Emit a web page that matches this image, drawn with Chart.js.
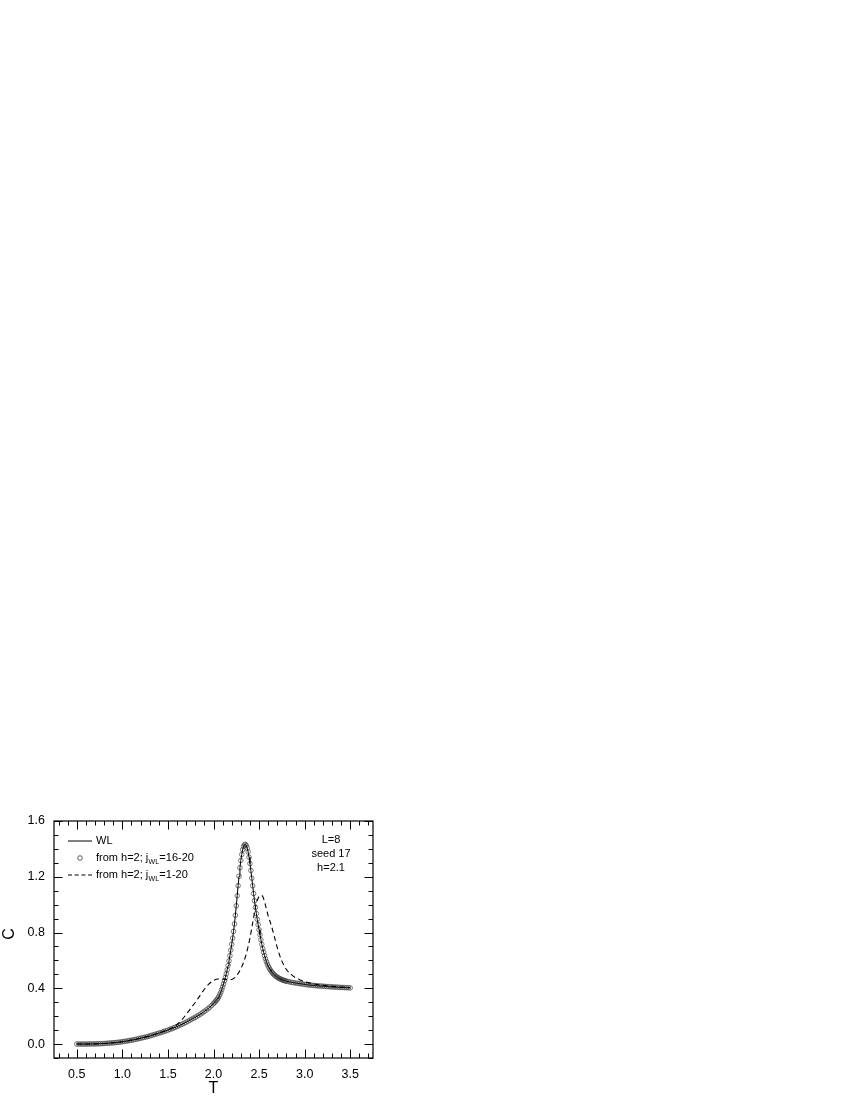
<!DOCTYPE html>
<html><head><meta charset="utf-8">
<script src="https://cdn.jsdelivr.net/npm/chart.js@4.4.0/dist/chart.umd.min.js"></script>
<style>
html,body{margin:0;padding:0;background:#fff;width:850px;height:1100px;overflow:hidden;}
#wrap{position:absolute;left:0;top:760px;width:400px;height:340px;}
</style></head><body>
<div id="wrap"><canvas id="c" width="400" height="340"></canvas></div>
<script>
// ---- data ----
const wlT = [0.50,0.52,0.54,0.56,0.58,0.60,0.62,0.64,0.66,0.68,0.70,0.72,0.74,0.76,0.78,0.80,0.82,0.84,0.86,0.88,0.90,0.92,0.94,0.96,0.98,
1.00,1.02,1.04,1.06,1.08,1.10,1.12,1.14,1.16,1.18,1.20,1.22,1.24,1.26,1.28,1.30,1.32,1.34,1.36,1.38,1.40,1.42,1.44,1.46,1.48,
1.50,1.52,1.54,1.56,1.58,1.60,1.62,1.64,1.66,1.68,1.70,1.72,1.74,1.76,1.78,1.80,1.82,1.84,1.86,1.88,1.90,1.92,1.94,1.96,1.98,
2.00,2.01,2.02,2.03,2.04,2.05,2.06,2.07,2.08,2.09,2.10,2.11,2.12,2.13,2.14,2.15,2.16,2.17,2.18,2.19,
2.20,2.21,2.22,2.23,2.24,2.25,2.26,2.27,2.28,2.29,2.30,2.31,2.32,2.33,2.34,2.35,2.36,2.37,2.38,2.39,
2.40,2.41,2.42,2.43,2.44,2.45,2.46,2.47,2.48,2.49,2.50,2.51,2.52,2.53,2.54,2.55,2.56,2.57,2.58,2.59,
2.60,2.61,2.62,2.63,2.64,2.65,2.66,2.67,2.68,2.69,2.70,2.71,2.72,2.73,2.74,2.75,2.76,2.77,2.78,2.79,2.80,
2.82,2.84,2.86,2.88,2.90,2.92,2.94,2.96,2.98,3.00,3.02,3.04,3.06,3.08,3.10,3.12,3.14,3.16,3.18,3.20,
3.22,3.24,3.26,3.28,3.30,3.32,3.34,3.36,3.38,3.40,3.42,3.44,3.46,3.48,3.50];
const wlC = [0.000,0.000,0.000,0.000,0.000,0.000,0.000,0.001,0.001,0.001,0.001,0.002,0.002,0.003,0.003,0.004,0.005,0.006,0.007,0.008,0.009,0.010,0.012,0.013,0.015,
0.017,0.019,0.021,0.023,0.025,0.028,0.030,0.033,0.036,0.039,0.042,0.045,0.048,0.051,0.055,0.058,0.062,0.066,0.070,0.074,0.078,0.082,0.086,0.091,0.095,
0.100,0.105,0.110,0.115,0.120,0.126,0.132,0.138,0.144,0.150,0.157,0.164,0.171,0.178,0.185,0.192,0.200,0.208,0.216,0.225,0.234,0.244,0.254,0.265,0.277,
0.290,0.297,0.305,0.313,0.321,0.330,0.342,0.356,0.372,0.390,0.410,0.431,0.454,0.478,0.504,0.532,0.563,0.597,0.634,0.674,
0.716,0.760,0.808,0.862,0.924,0.992,1.064,1.136,1.204,1.265,1.317,1.360,1.394,1.417,1.430,1.432,1.424,1.406,1.378,1.340,
1.295,1.245,1.190,1.135,1.080,1.028,0.980,0.936,0.895,0.857,0.820,0.784,0.748,0.715,0.685,0.658,0.634,0.612,0.592,0.575,
0.560,0.547,0.535,0.525,0.516,0.508,0.501,0.495,0.489,0.484,0.479,0.475,0.471,0.468,0.465,0.462,0.459,0.457,0.455,0.453,0.451,
0.448,0.445,0.442,0.440,0.438,0.436,0.434,0.432,0.430,0.428,0.426,0.424,0.423,0.422,0.420,0.419,0.418,0.417,0.416,0.415,
0.414,0.413,0.412,0.411,0.410,0.409,0.409,0.408,0.407,0.406,0.406,0.405,0.404,0.404,0.403];
// reweighted from h=2, j_WL=16-20 (coincides with WL)
const rwT = wlT;
const rwC = wlC;
// reweighted from h=2, j_WL=1-20 (dashed)
const dT = [0.50,0.60,0.70,0.80,0.90,1.00,1.10,1.20,1.30,1.40,1.50,1.55,1.60,1.65,1.70,1.75,1.80,1.85,1.90,1.95,2.00,2.05,2.10,2.15,2.20,2.25,2.30,2.35,2.40,2.43,2.46,2.48,2.50,2.52,2.54,2.56,2.58,2.60,2.63,2.66,2.70,2.75,2.80,2.85,2.90,2.95,3.00,3.10,3.20,3.30,3.40,3.50];
const dC = [0.000,0.000,0.001,0.004,0.009,0.017,0.028,0.042,0.058,0.079,0.102,0.118,0.140,0.172,0.212,0.256,0.298,0.346,0.393,0.431,0.456,0.467,0.467,0.461,0.463,0.488,0.540,0.625,0.760,0.870,0.980,1.030,1.058,1.068,1.058,1.020,0.970,0.920,0.860,0.790,0.690,0.595,0.535,0.500,0.476,0.460,0.448,0.432,0.422,0.415,0.409,0.405];
const xTickLabels = [0.5,1.0,1.5,2.0,2.5,3.0,3.5];
const yTickLabels = [0.0,0.4,0.8,1.2,1.6];
const legendLabels = ['WL','from h=2; j','from h=2; j'];
const legendSubs = ['', 'WL', 'WL'];
const legendTails = ['', '=16-20', '=1-20'];
const noteLines = ['L=8','seed 17','h=2.1'];
const xTitle = 'T';
const yTitle = 'C';

const FONT = "'Liberation Sans', Arial, Helvetica, sans-serif";

const decor = {
  id: 'decor',
  afterDraw(chart) {
    const ctx = chart.ctx, a = chart.chartArea, xs = chart.scales.x, ys = chart.scales.y;
    ctx.save();
    ctx.strokeStyle = '#000';
    ctx.lineWidth = 1;
    // ticks (inward, all four sides)
    const MAJ = 8.5, MIN = 4.5;
    ctx.beginPath();
    for (let i = 3; i <= 37; i++) {
      const v = i / 10, px = Math.round(xs.getPixelForValue(v)) + 0.5;
      const len = (i % 5 === 0) ? MAJ : MIN;
      ctx.moveTo(px, a.bottom); ctx.lineTo(px, a.bottom - len);
      ctx.moveTo(px, a.top); ctx.lineTo(px, a.top + len);
    }
    for (let i = -1; i <= 16; i++) {
      const v = i / 10, py = Math.round(ys.getPixelForValue(v)) + 0.5;
      const len = ((i + 100) % 4 === 0) ? MAJ : MIN;
      ctx.moveTo(a.left, py); ctx.lineTo(a.left + len, py);
      ctx.moveTo(a.right, py); ctx.lineTo(a.right - len, py);
    }
    ctx.stroke();
    // frame
    ctx.lineWidth = 1.2;
    ctx.strokeRect(a.left, a.top, a.right - a.left, a.bottom - a.top);

    // legend
    const oy = 760; // canvas top in page
    const rows = [841 - oy, 858 - oy, 875 - oy];
    const lx0 = 68, lx1 = 92, tx = 96;
    ctx.lineWidth = 1;
    ctx.strokeStyle = '#000';
    ctx.beginPath(); ctx.moveTo(lx0, rows[0]); ctx.lineTo(lx1, rows[0]); ctx.stroke();
    ctx.strokeStyle = '#333'; ctx.lineWidth = 0.8;
    ctx.beginPath(); ctx.arc((lx0 + lx1) / 2, rows[1], 2.3, 0, Math.PI * 2); ctx.stroke();
    ctx.strokeStyle = '#000'; ctx.lineWidth = 1;
    ctx.setLineDash([4, 2.7]);
    ctx.beginPath(); ctx.moveTo(lx0, rows[2]); ctx.lineTo(lx1, rows[2]); ctx.stroke();
    ctx.setLineDash([]);
    ctx.fillStyle = '#000';
    ctx.textBaseline = 'middle';
    ctx.textAlign = 'left';
    for (let i = 0; i < 3; i++) {
      ctx.font = '11px ' + FONT;
      let x = tx;
      ctx.fillText(legendLabels[i], x, rows[i]);
      x += ctx.measureText(legendLabels[i]).width;
      if (legendSubs[i]) {
        ctx.font = '7px ' + FONT;
        ctx.fillText(legendSubs[i], x + 0.3, rows[i] + 3.8);
        x += ctx.measureText(legendSubs[i]).width + 0.6;
        ctx.font = '11px ' + FONT;
        ctx.fillText(legendTails[i], x, rows[i]);
      }
    }
    // note
    ctx.font = '11px ' + FONT;
    ctx.textAlign = 'center';
    const ny = [840 - oy, 854 - oy, 868 - oy];
    for (let i = 0; i < noteLines.length; i++) ctx.fillText(noteLines[i], 331, ny[i]);
    // axis titles
    ctx.font = '16px ' + FONT;
    ctx.fillText(xTitle, (a.left + a.right) / 2, 1089 - oy);
    ctx.translate(10, 934 - oy);
    ctx.rotate(-Math.PI / 2);
    ctx.fillText(yTitle, 0, 0);
    ctx.restore();
  }
};

const toPts = (xs, ys) => xs.map((x, i) => ({ x: x, y: ys[i] }));

new Chart(document.getElementById('c'), {
  type: 'line',
  data: {
    datasets: [
      { label: 'from h=2; j_WL=16-20', data: toPts(rwT, rwC), showLine: false,
        pointStyle: 'circle', pointRadius: 2.3, pointBorderWidth: 0.7,
        pointBorderColor: '#444', pointBackgroundColor: 'rgba(255,255,255,0)', order: 3 },
      { label: 'WL', data: toPts(wlT, wlC), borderColor: '#000', borderWidth: 1,
        pointRadius: 0, fill: false, tension: 0, order: 1 },
      { label: 'from h=2; j_WL=1-20', data: toPts(dT, dC), borderColor: '#000', borderWidth: 1.1,
        borderDash: [5, 3.5], pointRadius: 0, fill: false, cubicInterpolationMode: 'monotone', order: 2 }
    ]
  },
  options: {
    responsive: false,
    animation: false,
    devicePixelRatio: 1,
    layout: { padding: { top: 61, right: 27, left: 0, bottom: 0 } },
    plugins: { legend: { display: false }, tooltip: { enabled: false } },
    scales: {
      x: {
        type: 'linear', min: 0.25, max: 3.75,
        afterBuildTicks: s => { s.ticks = xTickLabels.map(v => ({ value: v })); },
        afterFit: s => { s.height = 42; },
        grid: { display: false, drawTicks: false },
        border: { display: false },
        ticks: { padding: 9, color: '#000', font: { family: FONT, size: 12.5 },
                 callback: v => Number(v).toFixed(1), maxRotation: 0, autoSkip: false }
      },
      y: {
        type: 'linear', min: -0.1, max: 1.6,
        afterBuildTicks: s => { s.ticks = yTickLabels.map(v => ({ value: v })); },
        afterFit: s => { s.width = 54; },
        grid: { display: false, drawTicks: false },
        border: { display: false },
        ticks: { padding: 9, color: '#000', font: { family: FONT, size: 12.5 },
                 callback: v => Number(v).toFixed(1), autoSkip: false }
      }
    }
  },
  plugins: [decor]
});
</script>
</body></html>
